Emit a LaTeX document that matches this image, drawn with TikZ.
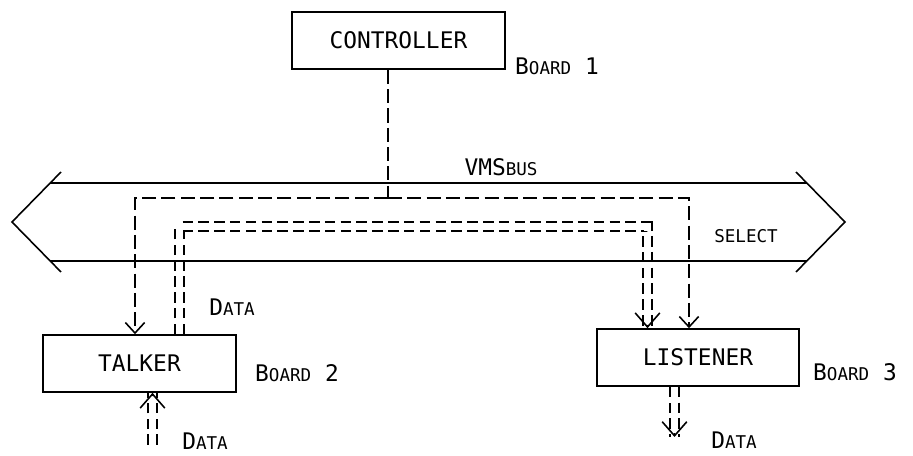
\documentclass[tikz,border=0pt]{standalone}
\usepackage{fontspec}
\setmonofont{DejaVu Sans Mono}
\usetikzlibrary{arrows.meta}

% smaller capitals for the lower-case part of a label
\newcommand{\lowcaps}[1]{{\fontsize{10}{12}\selectfont #1}}

\tikzset{
  unit/.style={draw, line width=0.9pt, minimum height=1.14cm, inner sep=0pt,
    font=\ttfamily\fontsize{13}{15}\selectfont},
  tag/.style={inner sep=0pt, font=\ttfamily\fontsize{13}{15}\selectfont},
  sig/.style={line width=0.9pt, dash pattern=on 8pt off 3pt,
    -{Straight Barb[length=6pt,width=11pt]}},
  datapath/.style={double, line width=0.9pt, double distance=0.14cm,
    dash pattern=on 6pt off 3pt},
  datatip/.style={line width=0.9pt, -{Straight Barb[length=8pt,width=14pt]}},
}

\begin{document}
\begin{tikzpicture}
	\useasboundingbox (0,0) rectangle (18.26,9.12);

	%boards
	\node[unit, minimum width=4.26cm] (ctrl) at (7.97,8.31) {CONTROLLER};
	\node[tag] (b1) at (11.14,7.80) {B\lowcaps{OARD} 1};
	%
	\node[unit, minimum width=3.86cm] (talker) at (2.79,1.85) {TALKER};
	\node[tag] (b2) at (5.94,1.66) {B\lowcaps{OARD} 2};
	%
	\node[unit, minimum width=4.04cm] (listener) at (13.96,1.97) {LISTENER};
	\node[tag] (b3) at (17.10,1.68) {B\lowcaps{OARD} 3};

	%select lines
	\coordinate (split) at (7.76,5.16);
	\draw[sig,-] ([xshift=-0.21cm]ctrl.south) -- (split);
	\draw[sig] (split) -| ([xshift=-0.09cm]talker.north);
	\draw[sig] (split) -| ([xshift=-0.18cm]listener.north);

	%data lines
	\coordinate (dataway) at (8,4.59);
	\coordinate (tout) at ([xshift=0.80cm]talker.north);
	\coordinate (lin) at ([xshift=-1.01cm]listener.north);
	\coordinate (tin) at (3.05,0.22);
	\coordinate (tbot) at (talker.south -| tin);
	\coordinate (lout) at (13.49,0.38);
	\coordinate (lbot) at (listener.south -| lout);
	\draw[datapath] (tout) |- (dataway) -| (lin);
	\draw[datatip] ([yshift=2pt]lin) -- (lin);
	\draw[datapath] (tin) -- (tbot);
	\draw[datatip] ([yshift=-2pt]tbot) -- (tbot);
	\draw[datapath] (lbot) -- (lout);
	\draw[datatip] ([yshift=2pt]lout) -- (lout);

	%bus
	\draw[line width=0.9pt] (1.22,5.68) -- (0.24,4.68) -- (1.22,3.68);
	\draw[line width=0.9pt] (15.92,5.68) -- (16.90,4.68) -- (15.92,3.68);
	\draw[line width=0.9pt] (1.0,5.46) -- (16.14,5.46);
	\draw[line width=0.9pt] (1.0,3.90) -- (16.14,3.90);
	\node[tag] (busname) at (10.02,5.78) {VMS\lowcaps{BUS}};
	\node[tag] (sel) at (14.92,4.40) {\lowcaps{SELECT}};

	%data labels
	\node[tag] (dtop) at (4.64,2.98) {D\lowcaps{ATA}};
	\node[tag] (din) at (4.10,0.30) {D\lowcaps{ATA}};
	\node[tag] (dout) at (14.68,0.32) {D\lowcaps{ATA}};
\end{tikzpicture}
\end{document}
